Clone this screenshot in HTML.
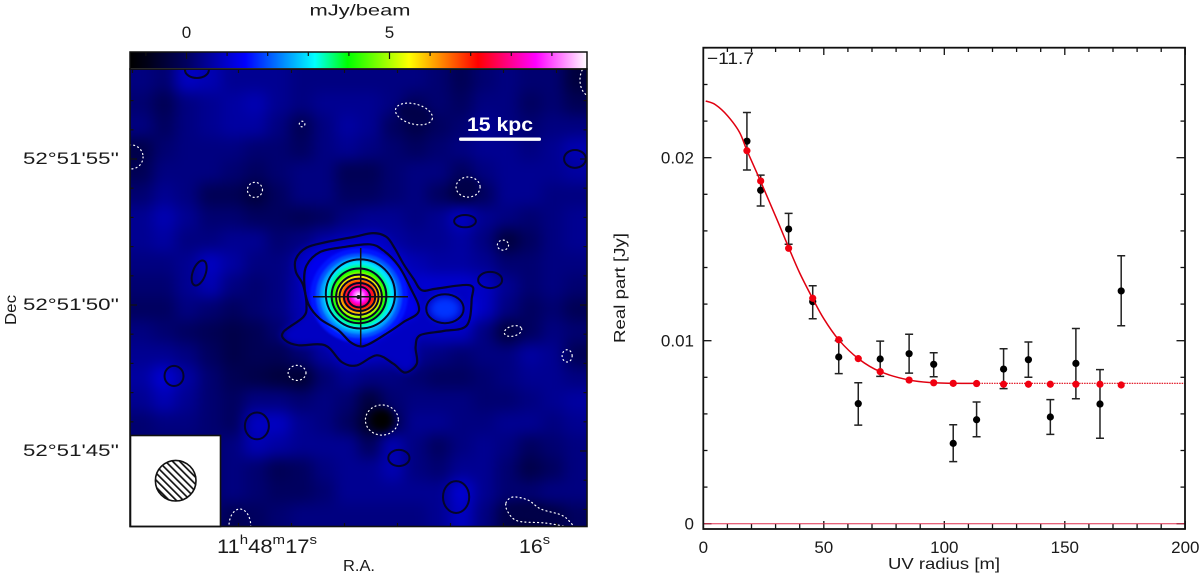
<!DOCTYPE html>
<html lang="en">
<head>
<meta charset="utf-8">
<title>Continuum map and UV visibility fit</title>
<style>
html,body{margin:0;padding:0;background:#fff;width:1200px;height:574px;overflow:hidden}
svg{display:block}
text{font-family:"Liberation Sans",sans-serif;fill:#1a1a1a}
</style>
</head>
<body>
<svg id="fig" xmlns="http://www.w3.org/2000/svg" width="1200" height="574" viewBox="0 0 1200 574">
  <defs>
    <clipPath id="mapClip"><rect x="130" y="69" width="457" height="457"/></clipPath>
    <linearGradient id="cbarGrad" x1="0" x2="1" y1="0" y2="0"></linearGradient>
    <filter id="blurField" x="-10%" y="-10%" width="120%" height="120%" color-interpolation-filters="sRGB"><feGaussianBlur stdDeviation="7" color-interpolation-filters="sRGB"/></filter>
    <filter id="blurSoft" x="-30%" y="-30%" width="160%" height="160%" color-interpolation-filters="sRGB"><feGaussianBlur stdDeviation="4" color-interpolation-filters="sRGB"/></filter>
    <filter id="blurCore" x="-20%" y="-20%" width="140%" height="140%" color-interpolation-filters="sRGB"><feGaussianBlur stdDeviation="1" color-interpolation-filters="sRGB"/></filter>
    <pattern id="hatch" width="5" height="5" patternUnits="userSpaceOnUse" patternTransform="rotate(-45)">
      <rect width="5" height="5" fill="#fff"/>
      <rect width="1.7" height="5" fill="#111"/>
    </pattern>
  </defs>

  <g id="mapPanel">
    <rect x="130" y="52" width="457" height="16" fill="url(#cbarGrad)"/>
    <g id="cbarTicks"></g>
    <text x="360" y="15.5" font-size="16" text-anchor="middle" textLength="101" lengthAdjust="spacingAndGlyphs">mJy/beam</text>
    <g id="mapContent" clip-path="url(#mapClip)">
      <rect x="130" y="69" width="457" height="457" fill="#000090"/>
      <g id="heat" filter="url(#blurField)"></g>
      <g id="soft" filter="url(#blurSoft)"></g>
      <g id="core" filter="url(#blurCore)"></g>
      <g id="contours" fill="none"></g>
    </g>
    <line x1="313" y1="296.7" x2="408" y2="296.7" stroke="#111" stroke-width="1.5"/>
    <line x1="360.7" y1="248" x2="360.7" y2="346" stroke="#111" stroke-width="1.5"/>
    <circle cx="358.5" cy="297" r="2" fill="#111"/>
    <g>
      <text x="500" y="131" font-size="19" font-weight="bold" text-anchor="middle" textLength="66" lengthAdjust="spacingAndGlyphs" style="fill:#fff">15 kpc</text>
      <rect x="459" y="137.5" width="82" height="3.4" rx="1.5" fill="#fff"/>
    </g>
    <g id="mapTicks"></g>
    <g>
      <rect x="130.5" y="435.5" width="90" height="91" fill="#fff" stroke="#111" stroke-width="1.6"/>
      <circle cx="175.7" cy="480.7" r="20.3" fill="url(#hatch)" stroke="#111" stroke-width="1.6"/>
    </g>
    <rect x="130" y="69" width="457" height="457.5" fill="none" stroke="#111" stroke-width="1.6"/>
    <rect x="130" y="52" width="457" height="17" fill="none" stroke="#111" stroke-width="1.5"/>
    <g>
      <text x="217" y="553" font-size="19" textLength="100" lengthAdjust="spacingAndGlyphs">11<tspan font-size="13" dy="-9">h</tspan><tspan dy="9">48</tspan><tspan font-size="13" dy="-9">m</tspan><tspan dy="9">17</tspan><tspan font-size="13" dy="-9">s</tspan></text>
      <text x="519" y="553" font-size="19" textLength="31" lengthAdjust="spacingAndGlyphs">16<tspan font-size="13" dy="-9">s</tspan></text>
    </g>
    <text x="359" y="571" font-size="16" text-anchor="middle" textLength="32" lengthAdjust="spacingAndGlyphs">R.A.</text>
    <text transform="translate(16,310) rotate(-90)" font-size="16" text-anchor="middle" textLength="30" lengthAdjust="spacingAndGlyphs">Dec</text>
  </g>

  <g id="uvPanel">
    <g id="uvTicks"></g>
    <g id="uvLabels"></g>
    <text x="707" y="64" font-size="17" textLength="47" lengthAdjust="spacingAndGlyphs">−11.7</text>
    <text transform="translate(625,288) rotate(-90)" font-size="16" text-anchor="middle" textLength="110" lengthAdjust="spacingAndGlyphs">Real part [Jy]</text>
    <text x="944" y="569" font-size="16" text-anchor="middle" textLength="112" lengthAdjust="spacingAndGlyphs">UV radius [m]</text>
    <g id="uvMarks"></g>
    <rect x="703.3" y="47.7" width="481.7" height="481.3" fill="none" stroke="#111" stroke-width="1.8"/>
  </g>
</svg>

<script>
/* ---------- UV plot data ---------- */
var uvRadius = [18.1,23.8,35.4,45.4,56.2,64.3,73.4,85.4,95.6,103.7,113.4,124.6,134.9,144,154.6,164.6,173.4];
var realPart = [.0209,.01822,.0161,.01213,.00911,.00656,.009,.00929,.00871,.00439,.00568,.00845,.00896,.00583,.00876,.00654,.01272];
var realHigh = [.02247,.01905,.01696,.013,.0100,.0077,.00998,.01035,.00934,.00541,.00665,.00956,.00993,.00678,.01067,.00842,.01464];
var realLow  = [.01933,.01736,.01527,.0112,.0082,.00539,.00805,.00823,.00803,.00339,.00475,.00738,.008,.00488,.00683,.00467,.01082];
var modelPoints = [.02038,.01873,.01505,.01232,.01005,.00902,.00831,.00785,.0077,.00767,.00766,.00762,.00762,.00762,.00762,.00762,.00758];
var curveRadius = [1,5,10,15,18.1,23.8,30,35.4,40,45.4,50,56.2,64.3,73.4,85.4,95.6,103.7,113.4];
var curveFlux   = [.0231,.0229,.0223,.0214,.0204,.0187,.0168,.0151,.0137,.0123,.0112,.01005,.00902,.00831,.00785,.0077,.00767,.00767];
var tailRadius = [113.4,200];
var tailFlux   = [.00767,.00767];
var zeroRadius = [0,200];
var zeroFlux   = [0,0];
var xTickLabels = ['0','50','100','150','200'];
var xTickValues = [0,50,100,150,200];
var yTickLabels = ['0','0.01','0.02'];
var yTickValues = [0,.01,.02];

/* ---------- Map data (relative brightness, 20 x 20 grid, top row first) ---------- */
var mapGrid = [
[.5,.4,.9,.8,.6,.6,.6,.5,.5,.5,.5,.5,.5,.4,.2,.4,.5,.4,.4,.0],
[.4,.2,.5,.6,.7,.8,.6,.5,.6,.6,.6,.5,.3,.4,.3,.5,.5,.3,.4,.2],
[.5,.3,.5,.6,.7,.7,.5,.2,.5,.7,.6,.3,.1,.3,.4,.6,.5,.4,.5,.5],
[.1,.4,.5,.5,.5,.4,.4,.3,.5,.6,.5,.4,.3,.4,.5,.6,.6,.5,.6,.8],
[.2,.5,.5,.5,.4,.3,.4,.5,.5,.2,.2,.4,.5,.5,.3,.5,.6,.6,.6,.7],
[.4,.6,.5,.2,.2,.0,.3,.5,.5,.3,.3,.4,.5,.3,.0,.3,.6,.6,.5,.5],
[.6,.8,.6,.4,.4,.3,.3,.2,.3,.5,.6,.6,.5,.6,.9,.6,.5,.4,.5,.6],
[.6,.7,.5,.5,.6,.6,.4,.5,.7,.8,.8,.7,.6,.6,.7,.5,.0,.3,.5,.6],
[.5,.5,.6,.9,.7,.5,.5,.7,.9,1.1,1.1,1,.8,.7,.7,.6,.4,.4,.5,.5],
[.4,.4,.6,.8,.5,.4,.5,.8,.9,1.1,1.1,1,1,1,1,.9,.6,.4,.5,.4],
[.3,.3,.5,.4,.3,.4,.5,.8,.9,1.1,1.1,1,1,1.1,1.3,.9,.5,.3,.4,.2],
[.5,.4,.3,.2,.1,.2,.4,.7,.9,1,1,.9,.8,.9,.9,.5,.0,.3,.5,.4],
[.6,.6,.5,.3,.1,.2,.2,.4,.7,.9,.9,.8,.6,.5,.4,.5,.5,.7,.6,.2],
[.7,1,.7,.4,.2,.1,.0,-.1,.4,.6,.5,.5,.4,.3,.3,.4,.5,.6,.6,.5],
[.6,.8,.6,.4,.3,.5,.5,.4,.5,.4,.0,.4,.5,.5,.5,.4,.4,.5,.6,.7],
[.4,.5,.5,.4,.3,.9,.9,.6,.5,.3,-.2,.2,.6,.6,.5,.5,.6,.6,.5,.6],
[.4,.4,.4,.4,.5,.8,.7,.6,.6,.6,.3,.8,.5,.3,.5,.6,.5,.3,.4,.5],
[.4,.4,.4,.4,.5,.4,.2,.3,.5,.6,.6,.8,.5,.4,.6,.6,.4,.1,.3,.5],
[.4,.4,.4,.4,.5,.4,.3,.3,.4,.6,.6,.6,.6,.6,1,.6,.4,.4,.5,.5],
[.4,.4,.4,.4,.2,.3,.4,.5,.5,.5,.5,.5,.5,.6,.9,.5,.1,0,.1,.3]
];
/* offsets from the source: [right, up, radiusX, radiusY, rotation, level] */
var softFeatures = [
[3.08,-.42,.55,.42,0,1.8],
[.82,-4.41,.42,.42,0,-1.39],
[3.91,3.94,.4,.33,0,-.3],
[1.97,6.56,.65,.33,15,-.3],
[6.3,-7.8,1.1,.3,8,-.3]
];
var sourceLevels = [1.6,2,2.5,3,3.5,4,4.5,5,5.5,6,6.5,7,7.5,8,8.6,9.2,9.8];
var sourceRadiusX = [1.75,1.55,1.4,1.26,1.1,.98,.9,.82,.76,.7,.63,.56,.48,.4,.32,.22,.1];
var sourceRadiusY = [1.7,1.52,1.38,1.25,1.1,.98,.89,.8,.72,.65,.58,.5,.44,.37,.3,.2,.1];
var outerContourRight = [.51,.99,1.29,1.59,1.95,2.25,2.78,3.98,4.04,3.86,3.02,2.19,2.03,2.07,1.65,1.23,.63,-.08,-.62,-1.22,-2.17,-2.65,-2.71,-2,-1.88,-2,-2.26,-2.26,-1.88,-1.16,-.2];
var outerContourUp = [2.29,2.15,1.73,1.19,.66,.24,.3,.42,-.06,-1.02,-1.22,-1.37,-1.79,-2.39,-2.71,-2.39,-2.09,-2.45,-2.33,-1.73,-1.73,-1.55,-1.25,-.72,-.3,.42,.9,1.37,1.77,1.97,2.15];
var secondContourRight = [.39,.87,1.41,1.83,2.15,1.59,.99,.39,.04,-.32,-.74,-1.4,-1.82,-1.96,-1.88,-1.4,-.56];
var secondContourUp = [1.89,1.67,1.13,.36,-.48,-.9,-1.31,-1.67,-1.77,-1.61,-1.19,-.78,-.24,.48,1.13,1.61,1.79];
var positiveContours = [
[3.08,-.42,.67,.52,0],[.05,.11,1.24,1.24,0],[0,.04,.98,.98,0],[0,.0,.82,.8,0],[0,.01,.7,.65,0],[.02,.0,.56,.5,0],[.0,.0,.4,.37,0],
[-5.81,8.14,.43,.29,0],[-5.73,.86,.23,.47,20],[7.74,4.95,.39,.32,0],[3.8,2.72,.39,.22,0],[4.7,.61,.43,.29,0],
[-6.63,-2.83,.34,.36,0],[-3.66,-4.62,.43,.48,0],[1.43,-5.77,.38,.29,0],[3.48,-7.17,.47,.57,0]
];
var negativeContours = [
[-8.17,5.02,.43,.43,0],[-2.04,6.2,.1,.1,0],[-3.73,3.84,.27,.27,0],[1.97,6.56,.68,.36,15],[8.28,7.78,.36,.57,0],[3.91,3.94,.43,.36,0],
[5.16,1.86,.2,.18,0],[-2.22,-2.72,.32,.27,0],[-4.27,-8.21,.39,.61,0],[.82,-4.41,.59,.54,0],[5.52,-1.22,.32,.18,-15],[7.46,-2.11,.18,.22,0]
];
var negativeBlobRight = [5.27,5.52,6.06,6.52,7.24,7.56,7.6,6.67,5.7,5.34];
var negativeBlobUp = [-7.38,-7.17,-7.28,-7.6,-7.81,-8.06,-8.24,-8.1,-8.03,-7.71];
var colorbarTickValues = [-1,0,1,2,3,4,5,6,7,8,9];
var colorbarLabels = ['0','5'];
var colorbarLabelValues = [0,5];
var decLabels = ["52°51'55''","52°51'50''","52°51'45''"];
var decLabelValues = [55,50,45];

/* ---------- Scales ---------- */
function xUv(r){return 703.3+2.41*r;}
function yUv(v){return 523.7-18300*v;}
function xOff(a){return 359+27.9*a;}
function yOff(d){return 297-27.9*d;}
function xCbar(v){return 186.5+40.6*v;}
function yDec(s){return 305+29.2*(50-s);}
function xRa(s){return 265+265*(17-s);}
function fieldLevel(v){return (v-.5)*1.5+.3;}

var stopLevels = [-1.39,-1,0,1.45,3.16,3.97,5.48,7.18,8.6,9.87];
var stopColors = [[0,0,0],[0,0,20],[0,0,95],[0,0,255],[0,255,255],[0,255,0],[255,255,0],[255,0,0],[255,0,255],[255,255,255]];
function colorOf(v){
  if(v<=stopLevels[0]) return 'rgb(0,0,0)';
  for(var i=1;i<stopLevels.length;i++){
    if(v<=stopLevels[i]){
      var t=(v-stopLevels[i-1])/(stopLevels[i]-stopLevels[i-1]);
      var a=stopColors[i-1],b=stopColors[i];
      return 'rgb('+Math.round(a[0]+(b[0]-a[0])*t)+','+Math.round(a[1]+(b[1]-a[1])*t)+','+Math.round(a[2]+(b[2]-a[2])*t)+')';
    }
  }
  return 'rgb(255,255,255)';
}
var NS='http://www.w3.org/2000/svg';
function mk(parent,tag,attrs,txt){
  var el=document.createElementNS(NS,tag);
  for(var k in attrs) el.setAttribute(k,attrs[k]);
  if(txt!==undefined) el.textContent=txt;
  parent.appendChild(el);
  return el;
}
function smooth(px,py,closed){
  var n=px.length,d='M'+px[0].toFixed(1)+' '+py[0].toFixed(1);
  var last=closed?n:n-1;
  function idx(i){return closed?(i+n)%n:Math.max(0,Math.min(n-1,i));}
  for(var i=0;i<last;i++){
    var p0=idx(i-1),p1=idx(i),p2=idx(i+1),p3=idx(i+2);
    var c1x=px[p1]+(px[p2]-px[p0])/6,c1y=py[p1]+(py[p2]-py[p0])/6;
    var c2x=px[p2]-(px[p3]-px[p1])/6,c2y=py[p2]-(py[p3]-py[p1])/6;
    d+='C'+c1x.toFixed(1)+' '+c1y.toFixed(1)+' '+c2x.toFixed(1)+' '+c2y.toFixed(1)+' '+px[p2].toFixed(1)+' '+py[p2].toFixed(1);
  }
  return d+(closed?'Z':'');
}
function ell(parent,f,attrs){
  var cx=xOff(f[0]),cy=yOff(f[1]);
  var a={cx:cx,cy:cy,rx:f[2]*27.9,ry:f[3]*27.9,transform:'rotate('+f[4]+' '+cx+' '+cy+')'};
  for(var k in attrs) a[k]=attrs[k];
  return mk(parent,'ellipse',a);
}

/* ---------- Colorbar ---------- */
var grad=document.getElementById('cbarGrad');
stopLevels.forEach(function(v,i){
  mk(grad,'stop',{offset:((xCbar(v)-130)/457*100).toFixed(2)+'%','stop-color':colorOf(v)});
});
var cbT=document.getElementById('cbarTicks');
colorbarTickValues.forEach(function(v){
  var isMajor=v%5===0;
  var t=mk(cbT,'line',{x1:xCbar(v),x2:xCbar(v),y1:52,y2:isMajor?59:56,stroke:'#111','stroke-width':1.2});
  
  
});
colorbarLabels.forEach(function(s,i){
  var t=mk(cbT,'text',{x:xCbar(colorbarLabelValues[i]),y:38,'font-size':17,'text-anchor':'middle'},s);
  
  
});

/* ---------- Heatmap ---------- */
var heat=document.getElementById('heat');
var nRows=mapGrid.length,nCols=mapGrid[0].length,cw=457/nCols,ch=457/nRows;
mapGrid.forEach(function(row,r){
  row.forEach(function(v,c){
    var x=130+c*cw,y=69+r*ch,w=cw+.5,h=ch+.5;
    if(c===0){x-=30;w+=30;}
    if(c===nCols-1){w+=30;}
    if(r===0){y-=30;h+=30;}
    if(r===nRows-1){h+=30;}
    var cell=mk(heat,'rect',{x:x,y:y,width:w,height:h,fill:colorOf(fieldLevel(v))});
    
    
  });
});
var soft=document.getElementById('soft');
var s1=mk(soft,'path',{d:smooth(outerContourRight.map(xOff),outerContourUp.map(yOff),true),fill:colorOf(.9)});


var s2=mk(soft,'path',{d:smooth(secondContourRight.map(xOff),secondContourUp.map(yOff),true),fill:colorOf(1.3)});


softFeatures.forEach(function(f){
  var e=ell(soft,f,{fill:colorOf(f[5])});
  
  
});
var core=document.getElementById('core');
sourceLevels.forEach(function(v,i){
  var e=ell(core,[0,.05,sourceRadiusX[i],sourceRadiusY[i],0],{fill:colorOf(v)});
  
  
});

/* ---------- Contours ---------- */
var cg=document.getElementById('contours');
var c1=mk(cg,'path',{d:smooth(outerContourRight.map(xOff),outerContourUp.map(yOff),true),stroke:'#05052a','stroke-width':2.2});


var c2=mk(cg,'path',{d:smooth(secondContourRight.map(xOff),secondContourUp.map(yOff),true),stroke:'#05052a','stroke-width':2.2});


positiveContours.forEach(function(f){
  var e=ell(cg,f,{stroke:'#05052a','stroke-width':2});
  
  
});
negativeContours.forEach(function(f){
  var e=ell(cg,f,{stroke:'#fff','stroke-width':1.2,'stroke-dasharray':'1 3.2','stroke-linecap':'round'});
  
  
});
var nb=mk(cg,'path',{d:smooth(negativeBlobRight.map(xOff),negativeBlobUp.map(yOff),true),stroke:'#fff','stroke-width':1.2,'stroke-dasharray':'1 3.2','stroke-linecap':'round'});



/* ---------- Map ticks and labels ---------- */
var mt=document.getElementById('mapTicks');
for(var q=0;q<9;q++){
  var sec=17.5-q*0.2;
  var xq=xRa(sec);
  var big=Math.abs(sec-Math.round(sec))<.01;
  [[70,big?77:73],[526,big?519:523]].forEach(function(p){
    var tk=mk(mt,'line',{x1:xq,x2:xq,y1:p[0],y2:p[1],stroke:'#111','stroke-width':1.2});
    
    
  });
}
for(var ds=42;ds<=57;ds++){
  if(yDec(ds)<70||yDec(ds)>526) continue;
  var bigD=ds%5===0;
  [[130,bigD?137:133.5],[587,bigD?580:583.5]].forEach(function(p){
    var tk=mk(mt,'line',{x1:p[0],x2:p[1],y1:yDec(ds),y2:yDec(ds),stroke:'#111','stroke-width':1.2});
    
    
  });
}
decLabels.forEach(function(s,i){
  var t=mk(mt,'text',{x:119,y:yDec(decLabelValues[i])+5,'font-size':17,'text-anchor':'end',textLength:96,lengthAdjust:'spacingAndGlyphs'},s);
  
  
});

/* ---------- UV ticks ---------- */
var ut=document.getElementById('uvTicks');
for(var xv=0;xv<=200;xv+=10){
  var maj=xv%50===0;
  [[529,maj?521:524],[47.7,maj?55:52]].forEach(function(p){
    var tk=mk(ut,'line',{x1:xUv(xv),x2:xUv(xv),y1:p[0],y2:p[1],stroke:'#111','stroke-width':1.3});
    
    
  });
}
for(var yi=0;yi<=13;yi++){
  var yv=yi*.002,majY=yi%5===0;
  [[703.3,majY?711.5:707.5],[1185,majY?1176.5:1180.5]].forEach(function(p){
    var tk=mk(ut,'line',{x1:p[0],x2:p[1],y1:yUv(yv),y2:yUv(yv),stroke:'#111','stroke-width':1.3});
    
    
  });
}
var ul=document.getElementById('uvLabels');
xTickLabels.forEach(function(s,i){
  var t=mk(ul,'text',{x:xUv(xTickValues[i]),y:553,'font-size':17,'text-anchor':'middle'},s);
  
  
});
yTickLabels.forEach(function(s,i){
  var t=mk(ul,'text',{x:694,y:yUv(yTickValues[i])+6,'font-size':17,'text-anchor':'end'},s);
  
  
});

/* ---------- UV series ---------- */
var um=document.getElementById('uvMarks');
var zl=mk(um,'path',{d:smooth(zeroRadius.map(xUv),zeroFlux.map(yUv),false),fill:'none',stroke:'#e03050','stroke-width':1});


uvRadius.forEach(function(r,i){
  var x=xUv(r),yh=yUv(realHigh[i]),yl=yUv(realLow[i]);
  var b=mk(um,'path',{d:'M'+(x-4)+' '+yh+'H'+(x+4)+'M'+x+' '+yh+'V'+yl+'M'+(x-4)+' '+yl+'H'+(x+4),fill:'none',stroke:'#222','stroke-width':1.5});
  
  
});
uvRadius.forEach(function(r,i){
  var d=mk(um,'circle',{cx:xUv(r),cy:yUv(realPart[i]),r:3.6,fill:'#000'});
  
  
});
var tl=mk(um,'path',{d:smooth(tailRadius.map(xUv),tailFlux.map(yUv),false),fill:'none',stroke:'#e00010','stroke-width':1.2,'stroke-dasharray':'1.5 1'});


var cl=mk(um,'path',{d:smooth(curveRadius.map(xUv),curveFlux.map(yUv),false),fill:'none',stroke:'#e00010','stroke-width':1.5});


uvRadius.forEach(function(r,i){
  var d=mk(um,'circle',{cx:xUv(r),cy:yUv(modelPoints[i]),r:3.6,fill:'#f00010'});
  
  
});
</script>
</body>
</html>
